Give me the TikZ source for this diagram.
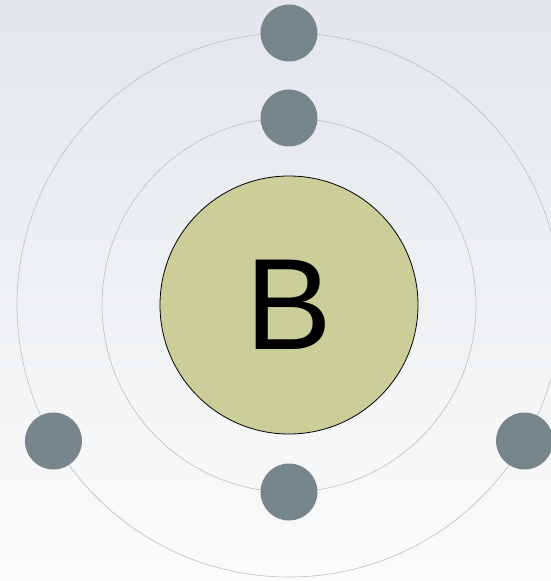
\documentclass[tikz,border=0pt]{standalone}
\usepackage{fontspec}
\setmainfont{Liberation Sans}
\definecolor{nucleusfill}{RGB}{204,206,154}
\definecolor{electronfill}{RGB}{118,134,138}
\definecolor{orbitline}{RGB}{190,190,190}
\definecolor{bgtop}{RGB}{227,231,235}
\definecolor{bgbottom}{RGB}{250,251,252}
\tikzset{
  electron/.style={circle, fill=electronfill, inner sep=0pt, minimum size=57pt},
  orbit/.style={draw=orbitline, line width=0.6pt},
}
\begin{document}
\begin{tikzpicture}[x=1pt, y=1pt]

  % page frame, centre of the atom at the origin
  \useasboundingbox (-289,-276) rectangle (262,305);
  \clip (-289,-276) rectangle (262,305);
  \shade[top color=bgtop, bottom color=bgbottom] (-289,-276) rectangle (262,305);

  % orbits
  \draw[orbit] (0,0) circle (187);
  \draw[orbit] (0,0) circle (272);

  % nucleus
  \node[circle, draw=black, line width=0.8pt, fill=nucleusfill, minimum size=258pt,
        inner sep=0pt, font=\fontsize{130}{130}\selectfont] (nucleus) at (0,0) {B};

  % inner shell
  \node[electron] (e1) at (90:187) {};
  \node[electron] (e2) at (270:187) {};

  % outer shell
  \node[electron] (e3) at (90:272) {};
  \node[electron] (e4) at (-30:272) {};
  \node[electron] (e5) at (210:272) {};
\end{tikzpicture}
\end{document}
